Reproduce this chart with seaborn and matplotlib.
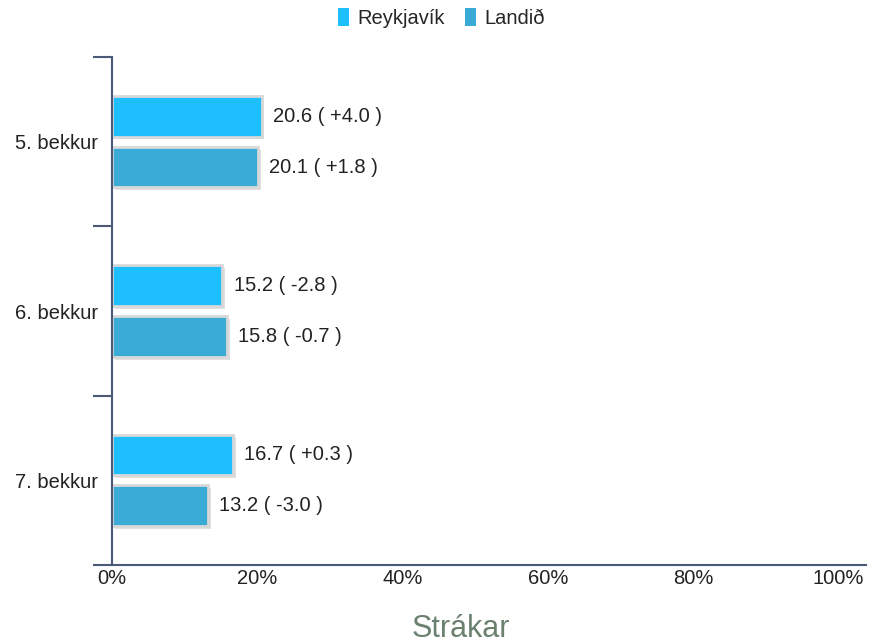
import matplotlib
matplotlib.use("Agg")
import pandas as pd
import matplotlib.pyplot as plt
import matplotlib.patheffects as pe
from matplotlib.patches import Patch
import seaborn as sns

sns.set_style("white")
plt.rcParams["font.family"] = ["Liberation Sans", "DejaVu Sans"]

# data
grades = ["5. bekkur", "6. bekkur", "7. bekkur"]
series = ["Reykjavík", "Landið"]
reykjavik = [20.6, 15.2, 16.7]
reykjavik_change = ["+4.0", "-2.8", "+0.3"]
landid = [20.1, 15.8, 13.2]
landid_change = ["+1.8", "-0.7", "-3.0"]
x_ticks = [0, 20, 40, 60, 80, 100]

colors = ["#1ebfff", "#3aabd7"]
axis_color = "#4b5878"
text_color = "#222222"

df = pd.DataFrame({
    "grade": grades * 2,
    "group": [series[0]] * 3 + [series[1]] * 3,
    "value": reykjavik + landid,
    "change": reykjavik_change + landid_change,
})

fig = plt.figure(figsize=(8.69, 6.43), dpi=100)
ax = fig.add_axes([0.1289, 0.1213, 0.8677, 0.790])

sns.barplot(data=df, x="value", y="grade", hue="group", order=grades,
            hue_order=series, palette=colors, saturation=1, orient="h",
            width=0.6, gap=0.2, edgecolor="#d8d8d8", linewidth=2,
            legend=False, ax=ax)

shadow = [pe.SimplePatchShadow(offset=(2, -2), shadow_rgbFace="#999999", alpha=0.3), pe.Normal()]
for p in ax.patches:
    p.set_path_effects(shadow)

# value labels
for container, grp in zip(ax.containers, series):
    sub = df[df["group"] == grp]
    labels = [f"{v:.1f} ( {c} )" for v, c in zip(sub["value"], sub["change"])]
    ax.bar_label(container, labels=labels, padding=8, fontsize=14.5, color=text_color)

ax.set_xlim(0, 103.8)
ax.set_ylim(2.5, -0.5)
ax.set_xticks(x_ticks)
ax.set_xticklabels([f"{t}%" for t in x_ticks], fontsize=14.5, color=text_color)
ax.tick_params(axis="x", length=0, pad=3)

ax.set_yticks(range(len(grades)))
ax.set_yticklabels(grades, fontsize=14.5, color=text_color)
ax.tick_params(axis="y", which="major", length=0, pad=10)
ax.set_yticks([-0.5, 0.5, 1.5, 2.5], minor=True)
ax.tick_params(axis="y", which="minor", left=True, length=14, width=1.5, color=axis_color)

ax.set_xlabel("")
ax.set_ylabel("")
for side in ["top", "right"]:
    ax.spines[side].set_visible(False)
for side in ["left", "bottom"]:
    ax.spines[side].set_color(axis_color)
    ax.spines[side].set_linewidth(1.5)

handles = [Patch(facecolor=c, edgecolor="none") for c in colors]
fig.legend(handles, series, loc="center", bbox_to_anchor=(0.508, 0.972), ncol=2,
           frameon=False, fontsize=14.5, handlelength=0.55, handleheight=1.0,
           handletextpad=0.4, columnspacing=1.0)

fig.text(0.530, -0.002, "Strákar", ha="center", va="bottom", fontsize=22, color="#6b806e")

fig.savefig("out.png", dpi=100)
